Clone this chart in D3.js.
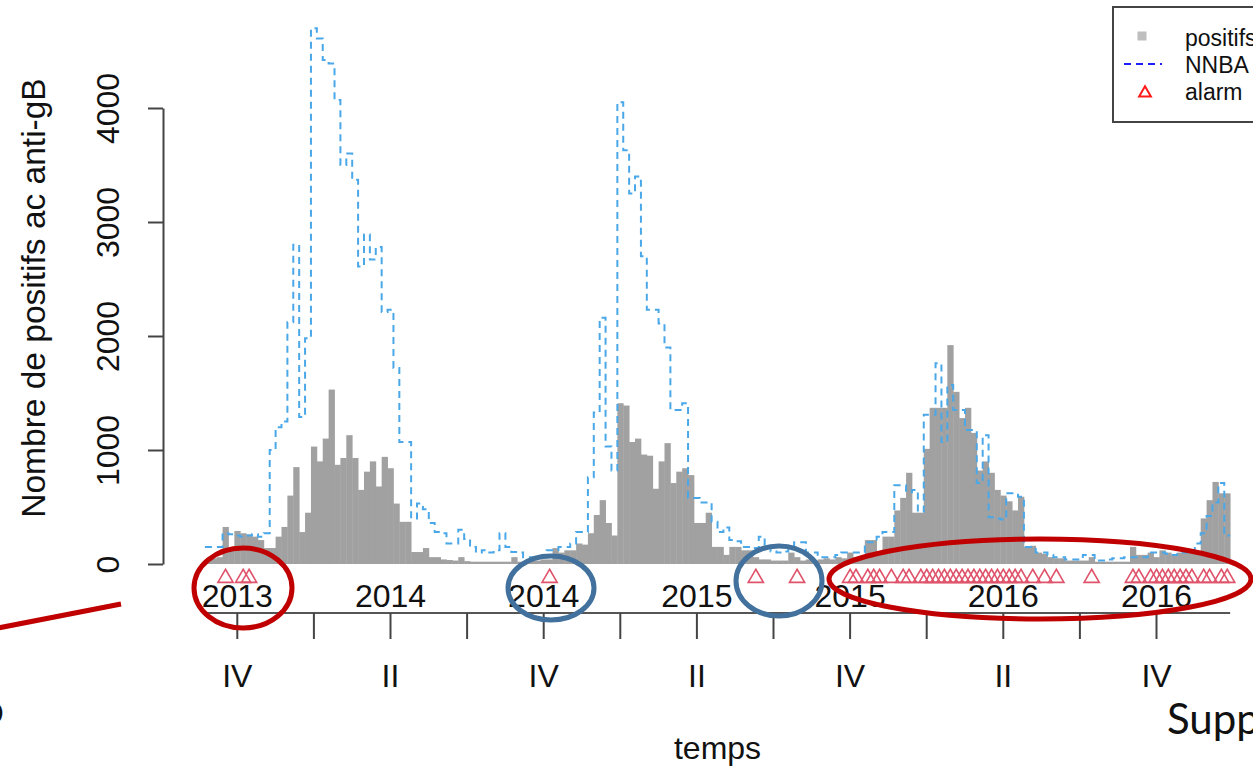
<!DOCTYPE html>
<html><head><meta charset="utf-8">
<script src="https://cdn.jsdelivr.net/npm/d3@7"></script>
<style>html,body{margin:0;padding:0;background:#fff;overflow:hidden}</style>
</head><body>
<svg id="chart" width="1253" height="767"></svg>
<script>
// Weekly counts of anti-gB positive tests (week index 0 = first surveillance week)
const positifs = [
  40, 50, 60, 325, 120, 290, 270, 260, 240, 210,
  140, 140, 240, 325, 600, 850, 280, 450, 1030, 900,
  1100, 1530, 870, 930, 1130, 930, 650, 810, 900, 680,
  940, 840, 530, 370, 370, 105, 105, 140, 60, 60,
  40, 35, 30, 60, 25, 20, 20, 20, 20, 20,
  20, 20, 60, 20, 20, 30, 30, 40, 40, 140,
  100, 120, 120, 180, 170, 270, 430, 560, 360, 250,
  1410, 1390, 1070, 1100, 960, 950, 660, 900, 1060, 710,
  810, 840, 780, 360, 360, 450, 150, 150, 80, 150,
  150, 120, 120, 60, 40, 40, 30, 30, 30, 100,
  60, 30, 40, 30, 40, 50, 40, 60, 50, 100,
  60, 50, 210, 210, 100, 240, 240, 470, 580, 800,
  450, 450, 1010, 1370, 1370, 1370, 1920, 1510, 1280, 1370,
  1150, 820, 900, 800, 650, 600, 550, 470, 590, 150,
  160, 100, 90, 60, 50, 50, 30, 30, 30, 30,
  60, 20, 20, 20, 20, 20, 20, 150, 80, 80,
  100, 60, 120, 100, 80, 100, 100, 100, 100, 400,
  560, 720, 620, 620
];

// NNBA nowcast, same weeks
const nnba = [
  150, 150, 150, 270, 260, 250, 240, 250, 260, 240,
  270, 1000, 1200, 1250, 2120, 2800, 1290, 1980, 4700, 4610,
  4420, 4390, 4070, 3500, 3600, 3370, 2610, 2890, 2670, 2780,
  2210, 2230, 1720, 1070, 1070, 400, 530, 480, 360, 280,
  270, 180, 180, 300, 220, 150, 100, 120, 100, 120,
  270, 150, 105, 100, 60, 60, 60, 60, 120, 120,
  150, 150, 180, 280, 280, 760, 1330, 2160, 1030, 820,
  4050, 3630, 3250, 3400, 2700, 2230, 2230, 2110, 1900, 1350,
  1350, 1410, 580, 580, 540, 540, 370, 280, 320, 210,
  200, 150, 150, 140, 240, 150, 110, 100, 110, 150,
  190, 190, 100, 100, 60, 60, 60, 80, 100, 100,
  100, 100, 190, 190, 240, 280, 280, 690, 690, 630,
  650, 460, 1310, 1310, 1760, 1070, 1570, 1350, 1350, 1175,
  1175, 710, 1130, 410, 400, 390, 620, 620, 590, 150,
  150, 100, 100, 80, 60, 60, 40, 40, 40, 80,
  80, 30, 30, 40, 50, 50, 60, 60, 60, 60,
  100, 100, 100, 90, 80, 100, 100, 100, 180, 270,
  420, 540, 710, 250
];

// Weeks flagged by the detection algorithm
const alarmWeeks = [3, 6, 7, 58, 93, 100,
  109, 110, 112, 113, 114, 116, 118, 119, 121, 122, 123,
  124, 125, 126, 127, 128, 129, 130, 131, 132, 133, 134, 135, 136, 137, 138,
  140, 142, 144, 150,
  157, 158, 160, 161, 162, 163, 164, 165, 166, 167, 169, 170, 172, 173];

// Quarter starts on the time axis
const quarterTickWeeks = [5, 18, 31, 44, 57, 70, 83, 96, 109, 122, 135, 148, 161];
const labelWeeks = [5, 31, 57, 83, 109, 135, 161];
const yearLabels = ["2013", "2014", "2014", "2015", "2015", "2016", "2016"];
const quarterLabels = ["IV", "II", "IV", "II", "IV", "II", "IV"];
const yTicks = [0, 1000, 2000, 3000, 4000];
const legendLabels = ["positifs", "NNBA", "alarm"];

const FONT = "'Liberation Sans', Arial, sans-serif";
const svg = d3.select("#chart");

const x = d3.scaleLinear().domain([5, 161]).range([237.3, 1156.5]);
const y = d3.scaleLinear().domain([0, 4000]).range([564, 108]);
const nW = positifs.length;

// bars
svg.append("g").selectAll("rect").data(positifs).join("rect")
  .attr("x", (d, i) => x(i - 0.5))
  .attr("width", (d, i) => x(i + 0.5) - x(i - 0.5) + 0.4)
  .attr("y", d => y(d))
  .attr("height", d => y(0) - y(d))
  .attr("fill", "#a1a1a1");

// NNBA step line
const stepPts = nnba.map((v, i) => [x(i - 0.5), y(v)]);
stepPts.push([x(nnba.length - 0.5), y(nnba[nnba.length - 1])]);
svg.append("path")
  .attr("d", d3.line().curve(d3.curveStepAfter)(stepPts))
  .attr("fill", "none")
  .attr("stroke", "#4aa8e8")
  .attr("stroke-width", 2)
  .attr("stroke-dasharray", "7,5");

// alarm markers
svg.append("g").selectAll("path").data(alarmWeeks).join("path")
  .attr("transform", d => `translate(${x(d)},${y(0) + 14})`)
  .attr("d", d3.symbol(d3.symbolTriangle, 100))
  .attr("fill", "none")
  .attr("stroke", "#df536b")
  .attr("stroke-width", 1.6);

// y axis
const yAxis = svg.append("g").attr("transform", "translate(163,0)")
  .call(d3.axisLeft(y).tickValues(yTicks).tickSize(15).tickSizeOuter(0).tickFormat(d3.format("d")));
yAxis.select(".domain").attr("stroke", "#444").attr("stroke-width", 2);
yAxis.selectAll(".tick line").attr("stroke", "#444").attr("stroke-width", 2);
yAxis.selectAll(".tick text")
  .attr("x", null).attr("dy", null)
  .attr("transform", "translate(-44,0) rotate(-90)")
  .attr("text-anchor", "middle")
  .attr("font-family", FONT).attr("font-size", 32).attr("fill", "#111");

svg.append("text")
  .attr("transform", "translate(45,298) rotate(-90)")
  .attr("text-anchor", "middle")
  .attr("font-family", FONT).attr("font-size", 33.5).attr("fill", "#111")
  .text("Nombre de positifs ac anti-gB");

// time axis
const axisY = 613;
svg.append("line")
  .attr("x1", x(-0.5)).attr("x2", x(nW - 0.5))
  .attr("y1", axisY).attr("y2", axisY)
  .attr("stroke", "#555").attr("stroke-width", 2);
svg.append("g").selectAll("line").data(quarterTickWeeks).join("line")
  .attr("x1", d => x(d)).attr("x2", d => x(d))
  .attr("y1", axisY).attr("y2", axisY + 26)
  .attr("stroke", "#444").attr("stroke-width", 2);
svg.append("g").selectAll("text").data(labelWeeks).join("text")
  .attr("x", d => x(d)).attr("y", 607)
  .attr("text-anchor", "middle")
  .attr("font-family", FONT).attr("font-size", 32).attr("fill", "#111")
  .text((d, i) => yearLabels[i]);
svg.append("g").selectAll("text").data(labelWeeks).join("text")
  .attr("x", d => x(d)).attr("y", 687)
  .attr("text-anchor", "middle")
  .attr("font-family", FONT).attr("font-size", 32).attr("fill", "#111")
  .text((d, i) => quarterLabels[i]);
svg.append("text")
  .attr("x", (x(-0.5) + x(nW - 0.5)) / 2).attr("y", 759)
  .attr("text-anchor", "middle")
  .attr("font-family", FONT).attr("font-size", 32).attr("fill", "#111")
  .text("temps");

// legend
const lg = svg.append("g");
lg.append("rect").attr("x", 1113).attr("y", 7).attr("width", 160).attr("height", 115)
  .attr("fill", "#fff").attr("stroke", "#444").attr("stroke-width", 2);
lg.append("rect").attr("x", 1137.5).attr("y", 31.5).attr("width", 9).attr("height", 9).attr("fill", "#bebebe");
lg.append("line").attr("x1", 1124).attr("x2", 1162).attr("y1", 64).attr("y2", 64)
  .attr("stroke", "#1e1eff").attr("stroke-width", 2).attr("stroke-dasharray", "7,5");
lg.append("path").attr("transform", "translate(1145,93)")
  .attr("d", d3.symbol(d3.symbolTriangle, 60))
  .attr("fill", "none").attr("stroke", "#ff1a1a").attr("stroke-width", 2);
lg.selectAll("text.lab").data(legendLabels).join("text").attr("class", "lab")
  .attr("x", 1185).attr("y", (d, i) => 46 + i * 27)
  .attr("font-family", FONT).attr("font-size", 23).attr("fill", "#111")
  .text(d => d);

// slide annotations
const ann = svg.append("g").attr("fill", "none").attr("stroke-width", 5);
ann.append("line").attr("x1", -2).attr("y1", 628).attr("x2", 121).attr("y2", 604).attr("stroke", "#c00000");
ann.append("ellipse").attr("cx", 243).attr("cy", 588).attr("rx", 49).attr("ry", 40).attr("stroke", "#c00000");
ann.append("ellipse").attr("cx", 551).attr("cy", 588).attr("rx", 43).attr("ry", 32).attr("stroke", "#41719c");
ann.append("ellipse").attr("cx", 779).attr("cy", 581).attr("rx", 43).attr("ry", 35).attr("stroke", "#41719c");
ann.append("ellipse").attr("cx", 1040).attr("cy", 579).attr("rx", 211).attr("ry", 40).attr("stroke", "#c00000");

svg.append("text").attr("x", 1167).attr("y", 734)
  .attr("font-family", "Lato, 'Open Sans', sans-serif").attr("font-size", 42).attr("fill", "#111")
  .text("Supp");
svg.append("text").attr("x", 4).attr("y", 724).attr("text-anchor", "end")
  .attr("font-family", "Lato, 'Open Sans', sans-serif").attr("font-size", 42).attr("fill", "#111")
  .text("o");
</script>
</body></html>
